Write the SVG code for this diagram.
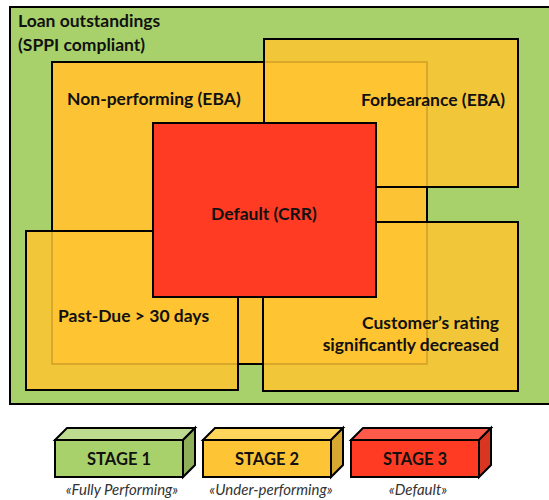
<svg xmlns="http://www.w3.org/2000/svg" width="549" height="500" viewBox="0 0 549 500">
<style>
.bx{stroke:#000;stroke-width:2}
.ov{fill:#FFC430;fill-opacity:0.85}
.t{font-family:Lato,"Open Sans","Liberation Sans",sans-serif;font-weight:bold;font-size:17.5px;fill:#111}
.lg{font-family:Lato,"Open Sans","Liberation Sans",sans-serif;font-weight:bold;font-size:16.5px;fill:#111;text-anchor:middle}
.it{font-family:Lato,"Open Sans","Liberation Sans",sans-serif;font-style:italic;font-size:15px;fill:#333;text-anchor:middle}
</style>
<rect width="549" height="500" fill="#fff"/>
<g id="loan-outstandings">
<rect class="bx" x="10" y="7" width="545" height="397" fill="#A9D16B"/>
<text class="t" x="18" y="27">Loan outstandings</text>
<text class="t" x="18" y="51">(SPPI compliant)</text>
</g>
<g id="non-performing">
<rect class="bx" x="52" y="62" width="375" height="302" fill="#FCC435"/>
<text class="t" x="67" y="105">Non-performing (EBA)</text>
</g>
<g id="forbearance">
<rect class="bx ov" x="264" y="39" width="254" height="148"/>
<text class="t" x="505" y="106" text-anchor="end">Forbearance (EBA)</text>
</g>
<g id="past-due">
<rect class="bx ov" x="26" y="231" width="212" height="159"/>
<text class="t" x="58" y="322">Past-Due &gt; 30 days</text>
</g>
<g id="customers-rating">
<rect class="bx ov" x="263" y="222" width="255" height="169"/>
<text class="t" x="499" y="329" text-anchor="end">Customer’s rating</text>
<text class="t" x="499" y="351" text-anchor="end">significantly decreased</text>
</g>
<g id="default">
<rect class="bx" x="153" y="123" width="223" height="174" fill="#FF3B24"/>
<text class="t" x="264" y="220" text-anchor="middle">Default (CRR)</text>
</g>
<g id="connectors"></g>
<g id="stage-1">
<polygon class="bx" points="55,440 67,428 195,428 183,440" fill="#BDDC8F"/>
<polygon class="bx" points="183,440 195,428 195,465 183,477" fill="#8DB058"/>
<rect class="bx" x="55" y="440" width="128" height="37" fill="#A9D16B"/>
<text class="lg" x="119" y="465">STAGE 1</text>
<text class="it" x="122" y="495">«Fully Performing»</text>
</g>
<g id="stage-2">
<polygon class="bx" points="203,440 215,428 343,428 331,440" fill="#FFD55C"/>
<polygon class="bx" points="331,440 343,428 343,465 331,477" fill="#D9A830"/>
<rect class="bx" x="203" y="440" width="128" height="37" fill="#FDC536"/>
<text class="lg" x="267" y="465">STAGE 2</text>
<text class="it" x="271" y="495">«Under-performing»</text>
</g>
<g id="stage-3">
<polygon class="bx" points="351,440 363,428 491,428 479,440" fill="#FF5A4A"/>
<polygon class="bx" points="479,440 491,428 491,465 479,477" fill="#D93523"/>
<rect class="bx" x="351" y="440" width="128" height="37" fill="#FF3B24"/>
<text class="lg" x="415" y="465">STAGE 3</text>
<text class="it" x="418" y="495">«Default»</text>
</g>
</svg>
